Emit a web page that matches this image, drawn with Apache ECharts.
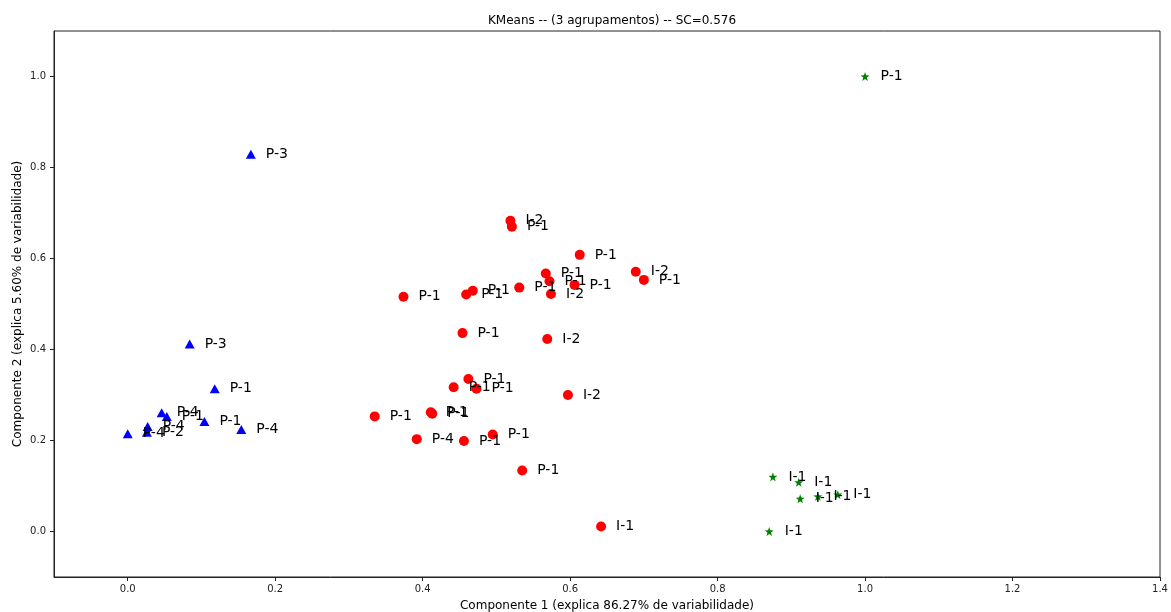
<!DOCTYPE html>
<html>
<head>
<meta charset="utf-8">
<script src="https://cdn.jsdelivr.net/npm/echarts@6/dist/echarts.min.js"></script>
<style>
  html, body { margin: 0; padding: 0; background: #fff; }
  #chart { width: 1171px; height: 612px; }
</style>
</head>
<body>
<div id="chart"></div>
<script>
// Cluster 1 (blue triangles)
const blueX = [0.000, 0.027, 0.026, 0.046, 0.053, 0.104, 0.154, 0.118, 0.084, 0.167];
const blueY = [0.215, 0.231, 0.218, 0.261, 0.253, 0.242, 0.224, 0.314, 0.412, 0.829];
const blueLabels = ['P-4', 'P-4', 'P-2', 'P-4', 'P-1', 'P-1', 'P-4', 'P-1', 'P-3', 'P-3'];

// Cluster 2 (red circles)
const redX = [0.462, 0.442, 0.473, 0.597, 0.335, 0.411, 0.413, 0.392, 0.456, 0.495,
              0.535, 0.642, 0.454, 0.569,
              0.519, 0.521, 0.613, 0.567, 0.572, 0.606, 0.574, 0.689, 0.700, 0.531,
              0.468, 0.459, 0.374];
const redY = [0.335, 0.317, 0.314, 0.300, 0.253, 0.262, 0.259, 0.203, 0.199, 0.213,
              0.134, 0.011, 0.436, 0.423,
              0.683, 0.670, 0.608, 0.567, 0.550, 0.542, 0.522, 0.571, 0.553, 0.536,
              0.529, 0.521, 0.516];
const redLabels = ['P-1', 'P-1', 'P-1', 'I-2', 'P-1', 'P-1', 'P-1', 'P-4', 'P-1', 'P-1',
                   'P-1', 'I-1', 'P-1', 'I-2',
                   'I-2', 'P-1', 'P-1', 'P-1', 'P-1', 'P-1', 'I-2', 'I-2', 'P-1', 'P-1',
                   'P-1', 'P-1', 'P-1'];

// Cluster 3 (green stars)
const greenX = [1.000, 0.875, 0.910, 0.912, 0.936, 0.963, 0.870];
const greenY = [1.000, 0.120, 0.108, 0.072, 0.077, 0.081, 0.000];
const greenLabels = ['P-1', 'I-1', 'I-1', 'I-1', 'I-1', 'I-1', 'I-1'];

const xTicks = [0.0, 0.2, 0.4, 0.6, 0.8, 1.0, 1.2, 1.4];
const yTicks = [0.0, 0.2, 0.4, 0.6, 0.8, 1.0];

const titleText = 'KMeans -- (3 agrupamentos) -- SC=0.576';
const xName = 'Componente 1 (explica 86.27% de variabilidade)';
const yName = 'Componente 2 (explica 5.60% de variabilidade)';

const STAR = 'path://M0,-10 L2.35,-3.24 L9.51,-3.09 L3.8,1.24 L5.88,8.09 L0,4 L-5.88,8.09 L-3.8,1.24 L-9.51,-3.09 L-2.35,-3.24 Z';

function points(xs, ys, labels) {
  return xs.map((x, i) => ({ value: [x, ys[i]], name: labels[i] }));
}

function scatter(xs, ys, labels, color, symbol, size, dist) {
  return {
    type: 'scatter',
    data: points(xs, ys, labels),
    symbol: symbol,
    symbolSize: size,
    itemStyle: { color: color, opacity: 1 },
    label: {
      show: true,
      position: 'right',
      distance: dist,
      formatter: p => p.name,
      color: '#000',
      fontSize: 14,
      fontFamily: 'DejaVu Sans'
    },
    emphasis: { disabled: true },
    silent: true
  };
}

const axisLine = { show: true, onZero: false, lineStyle: { color: '#222', width: 1 } };
const fmt = v => v.toFixed(1);

const chart = echarts.init(document.getElementById('chart'), null, { renderer: 'canvas' });
chart.setOption({
  animation: false,
  backgroundColor: '#fff',
  textStyle: { fontFamily: 'DejaVu Sans' },
  title: {
    text: titleText,
    left: 607,
    textAlign: 'center',
    top: 10,
    textStyle: { fontSize: 12, fontWeight: 'normal', color: '#000', fontFamily: 'DejaVu Sans' }
  },
  grid: {
    left: 54, right: 11, top: 31, bottom: 35,
    show: true, borderColor: '#222', borderWidth: 1,
    containLabel: false, outerBoundsMode: 'none'
  },
  xAxis: {
    type: 'value',
    min: -0.1, max: 1.4,
    name: xName,
    nameLocation: 'middle',
    nameGap: 23,
    nameMoveOverlap: false,
    nameTextStyle: { fontSize: 12, color: '#000', fontFamily: 'DejaVu Sans' },
    axisLine: axisLine,
    splitLine: { show: false },
    axisTick: { show: true, customValues: xTicks, length: 4, lineStyle: { color: '#222' } },
    axisLabel: { customValues: xTicks, formatter: fmt, fontSize: 10, color: '#222', margin: 7, fontFamily: 'DejaVu Sans' }
  },
  yAxis: {
    type: 'value',
    min: -0.1, max: 1.1,
    name: yName,
    nameLocation: 'middle',
    nameGap: 30,
    nameRotate: 90,
    nameMoveOverlap: false,
    nameTextStyle: { fontSize: 12, color: '#000', fontFamily: 'DejaVu Sans' },
    axisLine: axisLine,
    splitLine: { show: false },
    axisTick: { show: true, customValues: yTicks, length: 4, lineStyle: { color: '#222' } },
    axisLabel: { customValues: yTicks, formatter: fmt, fontSize: 10, color: '#222', margin: 8, fontFamily: 'DejaVu Sans' }
  },
  series: [
    scatter(blueX, blueY, blueLabels, '#0000ff', 'triangle', [10, 9], 10),
    scatter(redX, redY, redLabels, '#ff0000', 'circle', 10, 10),
    scatter(greenX, greenY, greenLabels, '#008000', STAR, 9, 11)
  ]
});
</script>
</body>
</html>
